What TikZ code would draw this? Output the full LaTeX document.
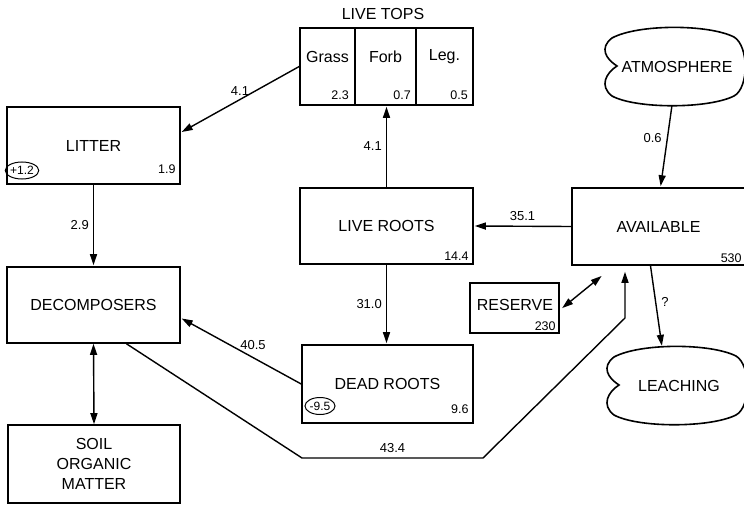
\documentclass[tikz,border=0pt]{standalone}
\usepackage{fontspec}
\setmainfont{Liberation Sans}
\usetikzlibrary{arrows.meta,shapes.geometric}
\newcommand\mainlab{\fontsize{16}{20}\selectfont}
\newcommand\numlab{\fontsize{12.5}{15}\selectfont}
\newcommand\arrlab{\fontsize{13}{15}\selectfont}
\newcommand\circlab{\fontsize{12}{13}\selectfont}
\newcommand\drawcloud[2]{%
  \draw[line width=1.6pt, shift={(#1,#2)}] (17,38)
    .. controls (6,31) and (-1,20) .. (12,10)
    .. controls (38,-4) and (108,-4) .. (134,9)
    .. controls (149,18) and (149,60) .. (134,68)
    .. controls (108,81) and (36,81) .. (12,68)
    .. controls (-1,58) and (6,45) .. (17,38) -- cycle;}
\begin{document}
\begin{tikzpicture}[x=1pt,y=-1pt,
  box/.style={draw, line width=1.6pt, inner sep=0pt, font=\mainlab},
  plain/.style={inner sep=0pt, font=\mainlab},
  num/.style={inner sep=0pt, font=\numlab, anchor=base east},
  lab/.style={inner sep=1pt, font=\arrlab},
  circ/.style={draw, ellipse, line width=1pt, inner sep=0pt, font=\circlab, minimum width=30pt, minimum height=17pt},
  arr/.style={-{Triangle[length=11pt,width=7pt]}, line width=1.4pt, shorten >=1pt},
  dblarr/.style={{Triangle[length=11pt,width=7pt]}-{Triangle[length=11pt,width=7pt]}, line width=1.4pt}
]
\useasboundingbox (0,0) rectangle (744,505);

% boxes
\node[box, minimum width=173, minimum height=77] (litter) at (93.5,145.5) {LITTER};
\node[box, minimum width=173, minimum height=76] (decomp) at (93.5,305) {DECOMPOSERS};
\node[box, minimum width=172, minimum height=78, align=center] (soil) at (94,464) {SOIL\\ORGANIC\\MATTER};
\node[box, minimum width=173, minimum height=77] (lt) at (386.5,66.5) {};
\node[box, minimum width=173, minimum height=76] (lr) at (386.5,226) {LIVE ROOTS};
\node[box, minimum width=171, minimum height=78] (dr) at (387.5,384) {DEAD ROOTS};
\node[box, minimum width=173, minimum height=77] (avail) at (658.5,226.5) {AVAILABLE};
\node[box, minimum width=89, minimum height=50] (res) at (514.5,308) {};
\node[plain] (restext) at (515,305) {RESERVE};

% live tops cells
\node[plain] (toptitle) at (383,14) {LIVE TOPS};
\coordinate (d1) at (355,28);
\coordinate (d2) at (416,28);
\draw[line width=1.6pt] (d1) -- (d1 |- lt.south);
\draw[line width=1.6pt] (d2) -- (d2 |- lt.south);
\node[plain] (grass) at (327.5,57) {Grass};
\node[plain] (forb) at (385.5,57) {Forb};
\node[plain] (leg) at (444.5,57) {Leg.};
\node[num] (n23) at (349,100) {2.3};
\node[num] (n07) at (411,100) {0.7};
\node[num] (n05) at (468,100) {0.5};

% clouds
\drawcloud{600}{28}
\drawcloud{602}{347}
\node[plain, minimum width=144, minimum height=77] (atm) at (677,66.5) {ATMOSPHERE};
\node[plain, minimum width=142, minimum height=77] (leach) at (679,385.5) {LEACHING};

% numbers
\node[num] (n19) at ([xshift=-5pt,yshift=11pt]litter.south east) {1.9};
\node[num] (n144) at ([xshift=-5pt,yshift=4pt]lr.south east) {14.4};
\node[num] (n96) at ([xshift=-5pt,yshift=10pt]dr.south east) {9.6};
\node[num] (n530) at ([xshift=-4pt,yshift=3pt]avail.south east) {530};
\node[num] (n230) at ([xshift=-4pt,yshift=3pt]res.south east) {230};
\node[circ] (c12) at (22,170.5) {+1.2};
\node[circ] (c95) at (320,406) {-9.5};

% connectors
\draw[arr] (lt.west) -- node[lab, above, pos=0.5, yshift=2pt] {4.1} ([yshift=13pt]litter.east);
\draw[arr] (lr.north) -- node[lab, left, xshift=-3pt] {4.1} (lr.north |- lt.south);
\draw[arr] (litter.south) -- node[lab, left, xshift=-3pt] {2.9} (decomp.north);
\draw[dblarr] (decomp.south) -- (soil.north);
\draw[arr] (avail.west) -- node[lab, above, yshift=4pt] {35.1} (lr.east);
\draw[arr] ([xshift=-5pt]atm.south) -- node[lab, left, xshift=-4pt, pos=0.4] {0.6} ([xshift=2pt]avail.north);
\draw[arr] (lr.south) -- node[lab, left, xshift=-3pt] {31.0} (lr.south |- dr.north);
\draw[arr] (dr.west) -- node[lab, above, yshift=6pt, pos=0.4] {40.5} ([yshift=-13pt]decomp.east);
\draw[dblarr, shorten <=3pt, shorten >=5pt] ([yshift=-2pt]res.east) -- ([xshift=-53pt,yshift=-7pt]avail.south);
\draw[arr] ([xshift=-8pt]avail.south) -- node[lab, right, xshift=4pt, pos=0.45] {?} ([xshift=-17pt]leach.north);
\coordinate (b1) at (302,458);
\coordinate (b2) at (483,458);
\coordinate (b3) at (625,318);
\draw[arr, shorten >=6pt] ([xshift=33pt]decomp.south) -- (b1) -- node[lab, above, yshift=4pt] {43.4} (b2) -- (b3) -- (b3 |- avail.south);
\end{tikzpicture}
\end{document}
